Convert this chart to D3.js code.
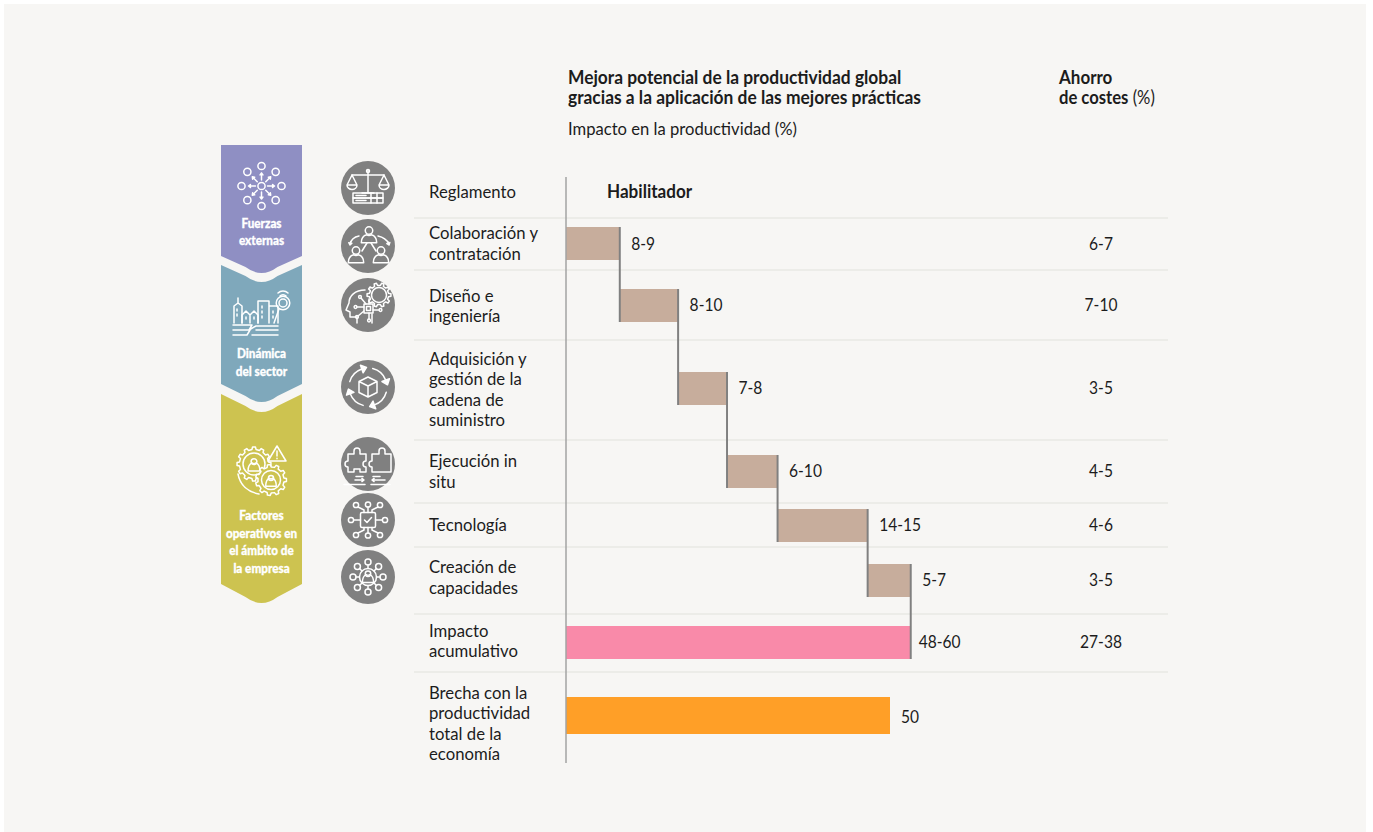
<!DOCTYPE html>
<html lang="es">
<head>
<meta charset="utf-8">
<title>Mejora potencial de la productividad</title>
<script src="https://cdn.jsdelivr.net/npm/d3@7"></script>
<style>
  html, body { margin: 0; padding: 0; background: #fff; overflow: hidden; }
  svg { display: block; font-family: Lato, "Noto Sans", sans-serif; }
  .ic, .ic * { fill: none; stroke: #fff; stroke-width: 1.5; stroke-linecap: round; stroke-linejoin: round; }
</style>
</head>
<body>
<svg id="chart" width="1373" height="832"></svg>
<script>
const categories = [
  ["Reglamento"],
  ["Colaboración y", "contratación"],
  ["Diseño e", "ingeniería"],
  ["Adquisición y", "gestión de la", "cadena de", "suministro"],
  ["Ejecución in", "situ"],
  ["Tecnología"],
  ["Creación de", "capacidades"],
  ["Impacto", "acumulativo"],
  ["Brecha con la", "productividad", "total de la", "economía"]
];
// bar lengths, in % points (ranges are printed, lengths sit near midpoints)
const stepValues = [8.3, 9.0, 7.55, 7.8, 13.9, 6.65];
const stepLabels = ["8-9", "8-10", "7-8", "6-10", "14-15", "5-7"];
const cumulativeValue = 53.2;
const cumulativeLabel = "48-60";
const gapValue = 50;
const gapLabel = "50";
const savings = ["6-7", "7-10", "3-5", "4-5", "4-6", "3-5", "27-38"];
const groups = [
  ["Fuerzas", "externas"],
  ["Dinámica", "del sector"],
  ["Factores", "operativos en", "el ámbito de", "la empresa"]
];

const INK = "#1c1c1c", RULE = "#e9e8e5", GREY = "#808080";
const rowEdges = [218, 270, 340, 440, 503, 547, 614, 672];
const labelMid = [192, 243.5, 306, 389.5, 471.5, 525, 577.5, 641, 723.5];
const barMid = [null, 244, 305.5, 388.5, 471.5, 525.5, 580.5, 642.5];
const iconY = [188, 246, 305, 387, 464, 520, 577];

const svg = d3.select("#chart");
svg.append("rect").attr("x", 4).attr("y", 4).attr("width", 1362).attr("height", 828).attr("fill", "#f7f6f4");

const x = d3.scaleLinear().domain([0, 50]).range([566, 890]);

// squeeze factor stands in for the condensed face of the original
function put(parent, tx, ty, str, o = {}) {
  return parent.append("text")
    .attr("transform", `translate(${tx},${ty}) scale(${o.sx || 0.955},1)`)
    .attr("text-anchor", o.anchor || "start")
    .attr("font-size", o.size || 17.5)
    .attr("font-weight", o.weight || 400)
    .attr("fill", o.fill || INK)
    .text(str);
}
const NUM = { sx: 0.89 };

// header
put(svg, 568, 84, "Mejora potencial de la productividad global", { weight: 700, size: 18.5, sx: 0.94 });
put(svg, 568, 104, "gracias a la aplicación de las mejores prácticas", { weight: 700, size: 18.5, sx: 0.94 });
put(svg, 568, 135, "Impacto en la productividad (%)", { size: 17.5, sx: 0.95 });
put(svg, 1059, 84, "Ahorro", { weight: 700, size: 18.5, sx: 0.92 });
const costes = put(svg, 1059, 104, "de costes", { weight: 700, size: 18.5, sx: 0.9 });
costes.append("tspan").attr("font-weight", 400).text(" (%)");

// row rules
svg.append("g").selectAll("line").data(rowEdges).join("line")
  .attr("x1", 414).attr("x2", 1168).attr("y1", d => d).attr("y2", d => d)
  .attr("stroke", RULE).attr("stroke-width", 1.5);

// row labels
categories.forEach((lines, i) => {
  const top = labelMid[i] - (lines.length - 1) * 10.1 + 6;
  lines.forEach((s, j) => put(svg, 429, top + j * 20.2, s));
});

put(svg, 607, 198, "Habilitador", { weight: 700, size: 18, sx: 0.95 });

// waterfall steps
const BAR_H = 33;
let run = 0;
const steps = stepValues.map((v, i) => {
  const d = { row: i + 1, x0: run, x1: run + v, label: stepLabels[i] };
  run += v;
  return d;
});
const barY = i => Math.floor(barMid[i] - BAR_H / 2);

svg.append("g").selectAll("rect").data(steps).join("rect")
  .attr("x", d => x(d.x0)).attr("width", d => x(d.x1) - x(d.x0))
  .attr("y", d => barY(d.row)).attr("height", BAR_H)
  .attr("fill", "#c7ad9c");

svg.append("rect").attr("x", x(0)).attr("width", x(cumulativeValue) - x(0))
  .attr("y", barY(7)).attr("height", BAR_H).attr("fill", "#f98aa9");
svg.append("rect").attr("x", x(0)).attr("width", x(gapValue) - x(0))
  .attr("y", 697).attr("height", 37).attr("fill", "#ff9f27");

// connectors: each runs from a bar's top to the bottom of the next bar
svg.append("g").selectAll("line").data(steps).join("line")
  .attr("x1", d => x(d.x1)).attr("x2", d => x(d.x1))
  .attr("y1", d => barY(d.row))
  .attr("y2", d => barY(d.row + 1) + BAR_H)
  .attr("stroke", GREY).attr("stroke-width", 2);

svg.append("line").attr("x1", 566).attr("x2", 566).attr("y1", 177).attr("y2", 763)
  .attr("stroke", "#a3a3a3").attr("stroke-width", 1.5);

// value labels
steps.forEach(d => put(svg, x(d.x1) + 11.5, barMid[d.row] + 5.5, d.label, NUM));
put(svg, x(cumulativeValue) + 8, 648, cumulativeLabel, NUM);
put(svg, x(gapValue) + 11, 722.5, gapLabel, NUM);
savings.forEach((s, i) => put(svg, 1101, barMid[i + 1] + 5.5, s, { anchor: "middle", sx: NUM.sx }));

// ---- left chevrons
const chevL = 221, chevR = 302, chevC = 261.5;
function chevron(top, notch, side, tip, fill) {
  const p = d3.path();
  p.moveTo(chevL, top);
  if (notch > top) {
    p.lineTo(chevC - 16, notch - 6);
    p.quadraticCurveTo(chevC, notch + 6, chevC + 16, notch - 6);
  }
  p.lineTo(chevR, top);
  p.lineTo(chevR, side);
  p.lineTo(chevC + 16, tip - 6);
  p.quadraticCurveTo(chevC, tip + 6, chevC - 16, tip - 6);
  p.lineTo(chevL, side);
  p.closePath();
  svg.append("path").attr("d", p.toString()).attr("fill", fill);
}
chevron(145, 145, 256, 273, "#8f8fc3");
chevron(265, 282, 384, 402, "#7fa8bb");
chevron(394, 412, 584, 603, "#cdc350");

const groupBase = [228, 358, 520];
const groupStep = [17, 18, 17.6];
groups.forEach((lines, i) => lines.forEach((s, j) =>
  put(svg, chevC, groupBase[i] + j * groupStep[i], s, { anchor: "middle", weight: 900, size: 13, fill: "#fff", sx: 0.9 })
    .attr("stroke", "#fff").attr("stroke-width", 0.3)));

// ---- icon helpers (local drawing, decoration only)
function gearPath(r, teeth) {
  const pts = [], tw = Math.PI / teeth;
  d3.range(teeth).forEach(k => {
    const a = k * 2 * tw;
    [[a - tw * 0.55, r - 2.4], [a - tw * 0.32, r], [a + tw * 0.32, r], [a + tw * 0.55, r - 2.4]]
      .forEach(([t, q]) => pts.push([q * Math.cos(t), q * Math.sin(t)]));
  });
  return d3.line().curve(d3.curveLinearClosed)(pts);
}
const ring = (g, cx, cy, r) => g.append("circle").attr("cx", cx).attr("cy", cy).attr("r", r);
const line = (g, d) => g.append("path").attr("d", d);
function arrow(g, x0, y0, x1, y1, h = 2.6) {
  const a = Math.atan2(y1 - y0, x1 - x0);
  const w = t => `${x1 + h * Math.cos(a + t)},${y1 + h * Math.sin(a + t)}`;
  line(g, `M${x0},${y0}L${x1},${y1}M${w(2.5)}L${x1},${y1}L${w(-2.5)}`);
}
function person(g, cx, cy, s = 1) {
  ring(g, cx, cy - 4 * s, 3.4 * s);
  line(g, `M${cx - 7 * s},${cy + 7 * s}c0,-6 ${3 * s},-7.5 ${5 * s},-8 c${1 * s},1 ${3 * s},1 ${4 * s},0 c${2 * s},0.5 ${5 * s},2 ${5 * s},8z`);
}
function hub(g, R, r, rc, n = 8) {
  d3.range(n).forEach(k => {
    const a = -Math.PI / 2 + k * 2 * Math.PI / n;
    ring(g, R * Math.cos(a), R * Math.sin(a), r);
  });
  if (rc) ring(g, 0, 0, rc);
}

// ---- grey circle icons
const icons = [
  g => { // scales over server
    line(g, "M-16,-13H16M0,-18V5M-6,5H6");
    line(g, "M-16,-13L-21,-3M-16,-13L-11,-3M-21,-3a5,4.5 0 0 0 10,0zM16,-13L11,-3M16,-13L21,-3M11,-3a5,4.5 0 0 0 10,0z");
    ring(g, 0, -17, 1.5);
    g.append("rect").attr("x", -15).attr("y", 5).attr("width", 30).attr("height", 5);
    g.append("rect").attr("x", -15).attr("y", 10).attr("width", 30).attr("height", 5);
    line(g, "M3,5V15M9,5V15M-12,7.5H-2M-12,12.5H-2");
  },
  g => { // people network
    person(g, 1, -11, 1.1);
    person(g, -12, 9, 1.1);
    person(g, 13, 9, 1.1);
    line(g, "M-1,-3L-6,5M3,-3L8,5");
    line(g, "M-9,-10C-14,-9 -17,-6 -18,-2M10,-10C15,-9 19,-6 21,-2");
    arrow(g, -17.5, -4, -18, -1);
    arrow(g, 20, -4, 21, -1);
  },
  g => { // head with chip and gear
    g.append("path").attr("d", gearPath(12, 10)).attr("transform", "translate(11,-10)");
    ring(g, 11, -10, 7.5);
    line(g, "M-3,-15C-13,-15 -19,-9 -19,-2L-22,5L-18,7V12H-11V18");
    line(g, "M4,18V9");
    g.append("rect").attr("x", -4).attr("y", -1).attr("width", 9).attr("height", 9);
    g.append("rect").attr("x", -1.5).attr("y", 1.5).attr("width", 4).attr("height", 4);
    line(g, "M-4,2H-11M-4,6L-10,11M1,8V14M5,5H11M1,-1V-6M-2,-1L-7,-7");
    [[-12.5, 2], [-11, 12], [1, 15.5], [12.5, 5], [-8, -8]].forEach(([a, b]) => ring(g, a, b, 1.4));
  },
  g => { // cube in a loop of arrows
    line(g, "M0,-10L-9,-5.5V5.5L0,10L9,5.5V-5.5ZM-9,-5.5L0,-1L9,-5.5M0,-1V10");
    const arc = d3.arc().innerRadius(19).outerRadius(19);
    [[0.25, 1.2], [1.85, 2.8], [3.4, 4.35], [5.0, 5.95]].forEach(([a0, a1]) => {
      line(g, arc({ startAngle: a0, endAngle: a1 }));
      const t = a1 - Math.PI / 2;
      const ax = 19 * Math.cos(t), ay = 19 * Math.sin(t);
      const tan = t + Math.PI / 2;
      g.append("path").style("fill", "#fff")
        .attr("d", `M${ax + 5 * Math.cos(tan)},${ay + 5 * Math.sin(tan)}L${ax + 4 * Math.cos(t)},${ay + 4 * Math.sin(t)}L${ax - 4 * Math.cos(t)},${ay - 4 * Math.sin(t)}Z`);
    });
  },
  g => { // two puzzle pieces and arrows
    line(g, "M-20,-10H-14V-13a3,3 0 1 1 6,0V-10H-2V-3a3,3 0 1 0 0,6V8H-8V5H-14V8H-20V3a3,3 0 1 1 0,-6Z");
    line(g, "M4,-10H11V-13a3,3 0 1 1 6,0V-10H23V8H4V3a3,3 0 1 1 0,-6Z");
    arrow(g, -13, 16, -4, 16);
    arrow(g, 17, 16, 4, 16);
    line(g, "M-24,20.5H-3M3,20.5H22M-12,12.5H-5M5,12.5H12");
  },
  g => { // chip with check
    g.append("rect").attr("x", -7.5).attr("y", -7.5).attr("width", 15).attr("height", 15).attr("rx", 1.5);
    line(g, "M-3.5,0L-1,2.5L3.5,-2.5");
    line(g, "M-7.5,0H-14M7.5,0H14M0,-7.5V-13M0,7.5V13");
    line(g, "M-4,-7.5V-10L-10,-13M4,-7.5V-10L10,-13M-4,7.5V10L-10,13M4,7.5V10L10,13");
    [[-17, 0], [17, 0], [0, -15.5], [0, 15.5], [-12, -15], [12, -15], [-12, 15], [12, 15]]
      .forEach(([a, b]) => ring(g, a, b, 2.6));
  },
  g => { // person in a ring of nodes
    hub(g, 15, 3, 0);
    ring(g, 0, 0, 8.5);
    person(g, 0, 0, 0.8);
    d3.range(8).forEach(k => {
      const a = -Math.PI / 2 + k * Math.PI / 4;
      line(g, `M${8.5 * Math.cos(a)},${8.5 * Math.sin(a)}L${12 * Math.cos(a)},${12 * Math.sin(a)}`);
    });
  }
];
iconY.forEach((cy, i) => {
  svg.append("circle").attr("cx", 368).attr("cy", cy).attr("r", 27).attr("fill", GREY);
  icons[i](svg.append("g").attr("class", "ic").attr("transform", `translate(368,${cy})`));
});

// ---- chevron icons
const hubIcon = svg.append("g").attr("class", "ic").attr("transform", `translate(${chevC},186)`);
hub(hubIcon, 20, 3.6, 3.6);
d3.range(8).forEach(k => {
  const a = -Math.PI / 2 + k * Math.PI / 4;
  arrow(hubIcon, 6 * Math.cos(a), 6 * Math.sin(a), 13 * Math.cos(a), 13 * Math.sin(a), 2.4);
});

const city = svg.append("g").attr("class", "ic");
line(city, "M234,323V306L238,303L242,306V323M238,303V298");
line(city, "M242,323V315L246,311L250,315V323M250,323V315L254,311L258,315V323");
line(city, "M258,323V301H269V323M269,306H278V323");
line(city, "M237,309v2M237,314v2M262,306v2M262,311v2M262,316v2M273,311v2M273,316v2M246,317v2M254,317v2");
ring(city, 283, 303, 6.8);
ring(city, 283, 303, 4);
line(city, "M278,293a7,7 0 0 1 10,0M280,296a4,4 0 0 1 6,0M279,309L274,323");
line(city, "M233,325H252L249,330L256,326H278M233,330H250M256,330H278M233,335H247L250,330M252,335H278");

const gears = svg.append("g").attr("class", "ic");
gears.append("path").attr("d", gearPath(17, 12)).attr("transform", "translate(254,464)");
ring(gears, 254, 464, 11);
person(gears.append("g").attr("transform", "translate(254,465)"), 0, 0, 0.85);
gears.append("path").attr("d", gearPath(15.5, 11)).attr("transform", "translate(271,480)").style("fill", "#cdc350");
ring(gears, 271, 480, 9.5);
person(gears.append("g").attr("transform", "translate(271,481)"), 0, 0, 0.75);
line(gears, "M277,446L286,461H268ZM277,451V456M277,458.3V458.7");
line(gears, "M238,474C240,485 248,492 259,494");
</script>
</body>
</html>
